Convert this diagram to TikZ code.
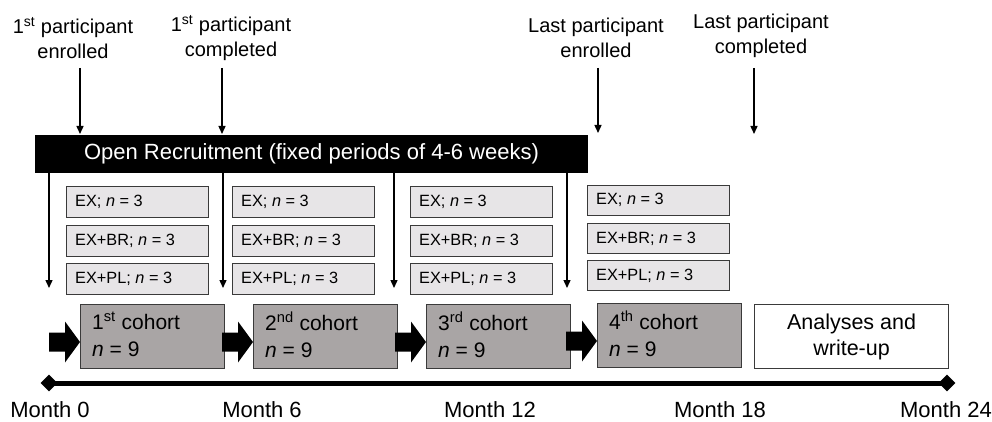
\documentclass[tikz,border=0pt]{standalone}
\usepackage{fontspec}
\setmainfont{Liberation Sans}
\usetikzlibrary{arrows.meta,shapes.geometric}
\definecolor{smallfill}{HTML}{E7E5E7}
\definecolor{cohortfill}{HTML}{A9A5A5}
\definecolor{edgegray}{HTML}{3A3A3A}
\tikzset{
  toplabel/.style={align=center,inner sep=0pt,font=\fontsize{20}{25}\selectfont},
  thinarrow/.style={line width=1.4pt,-{Triangle[width=7pt,length=8pt]}},
  smallbox/.style={draw=edgegray,line width=1.1pt,fill=smallfill,minimum width=142pt,minimum height=31pt,inner sep=0pt},
  smalltext/.style={anchor=west,inner sep=0pt,font=\fontsize{16.3}{19}\selectfont},
  cohortbox/.style={draw=edgegray,line width=1.1pt,fill=cohortfill,minimum width=144pt,minimum height=64pt,inner sep=0pt},
  cohorttext/.style={anchor=north west,align=left,inner sep=0pt,font=\fontsize{21}{27}\selectfont},
  monthlabel/.style={inner sep=0pt,font=\fontsize{22}{26}\selectfont},
  tick/.style={diamond,fill=black,inner sep=0pt,minimum size=17pt}
}
\newcommand{\blockarrow}[1]{%
  \fill[black] ([xshift=-31pt,yshift=-9.5pt]#1) -- ([xshift=-15pt,yshift=-9.5pt]#1) -- ([xshift=-15pt,yshift=-20.5pt]#1) -- (#1) -- ([xshift=-15pt,yshift=20.5pt]#1) -- ([xshift=-15pt,yshift=9.5pt]#1) -- ([xshift=-31pt,yshift=9.5pt]#1) -- cycle;}
\begin{document}
\begin{tikzpicture}[x=1pt,y=-1pt]
\useasboundingbox (0,0) rectangle (992,422);

% top labels
\node[toplabel] (l1) at (73,38) {1\textsuperscript{st} participant\\enrolled};
\node[toplabel] (l2) at (231,38) {1\textsuperscript{st} participant\\completed};
\node[toplabel] (l3) at (596,38) {Last participant\\enrolled};
\node[toplabel] (l4) at (761,36) {Last participant\\completed};

% recruitment bar
\node[fill=black,minimum width=553pt,minimum height=38pt,inner sep=0pt,text=white,font=\fontsize{22}{26}\selectfont] (bar) at (311.5,154) {Open Recruitment (fixed periods of 4-6 weeks)};

% arrows from labels
\coordinate (a1) at (80,68);
\coordinate (a2) at (222,68);
\coordinate (a3) at (598,68);
\coordinate (a4) at (754,68);
\draw[thinarrow] (a1) -- (a1 |- 0,134);
\draw[thinarrow] (a2) -- (a2 |- 0,134);
\draw[thinarrow] (a3) -- (a3 |- 0,133);
\draw[thinarrow] (a4) -- (a4 |- 0,134);

% arrows down from bar
\coordinate (d1) at (49,288);
\coordinate (d2) at (223,288);
\coordinate (d3) at (394,288);
\coordinate (d4) at (567,288);
\draw[thinarrow] (d1 |- bar.south) -- (d1);
\draw[thinarrow] (d2 |- bar.south) -- (d2);
\draw[thinarrow] (d3 |- bar.south) -- (d3);
\draw[thinarrow] (d4 |- bar.south) -- (d4);

% small boxes
\foreach \c/\x in {1/66,2/232,3/410}{
  \node[smallbox,anchor=north west] (ex\c) at (\x,186) {};
  \node[smallbox,anchor=north west] (br\c) at (\x,224.5) {};
  \node[smallbox,anchor=north west] (pl\c) at (\x,262.5) {};
}
\node[smallbox,anchor=north west,minimum height=30pt] (ex4) at (587,184.5) {};
\node[smallbox,anchor=north west,minimum height=30pt] (br4) at (587,223) {};
\node[smallbox,anchor=north west,minimum height=30pt] (pl4) at (587,260) {};
\foreach \c in {1,2,3,4}{
  \node[smalltext] at ([xshift=9pt]ex\c.west) {EX; \textit{n} = 3};
  \node[smalltext] at ([xshift=9pt]br\c.west) {EX+BR; \textit{n} = 3};
  \node[smalltext] at ([xshift=9pt]pl\c.west) {EX+PL; \textit{n} = 3};
}

% cohort boxes
\node[cohortbox,anchor=north west] (c1) at (80,304) {};
\node[cohortbox,anchor=north west] (c2) at (253,304) {};
\node[cohortbox,anchor=north west] (c3) at (426,304) {};
\node[cohortbox,anchor=north west] (c4) at (597,303) {};
\node[cohorttext] (t1) at ([xshift=12pt,yshift=-8pt]c1.north west) {1\textsuperscript{st} cohort\\\textit{n} = 9};
\node[cohorttext] (t2) at ([xshift=12pt,yshift=-8pt]c2.north west) {2\textsuperscript{nd} cohort\\\textit{n} = 9};
\node[cohorttext] (t3) at ([xshift=12pt,yshift=-8pt]c3.north west) {3\textsuperscript{rd} cohort\\\textit{n} = 9};
\node[cohorttext] (t4) at ([xshift=12pt,yshift=-8pt]c4.north west) {4\textsuperscript{th} cohort\\\textit{n} = 9};

% analyses box
\node[draw=edgegray,line width=1.1pt,fill=white,minimum width=194pt,minimum height=64pt,inner sep=0pt,align=center,font=\fontsize{21.5}{26}\selectfont,anchor=north west] (an) at (754,304) {Analyses and\\write-up};

% block arrows
\coordinate (b1) at (c1.west |- 0,342);
\coordinate (b2) at (c2.west |- 0,342);
\coordinate (b3) at (c3.west |- 0,342);
\coordinate (b4) at (c4.west |- 0,341);
\blockarrow{b1}
\blockarrow{b2}
\blockarrow{b3}
\blockarrow{b4}

% timeline
\node[tick] (m0) at (49,383) {};
\node[tick] (m24) at (947,383) {};
\draw[line width=5pt] (m0.center) -- (m24.center);

% month labels
\node[monthlabel] (mo0) at (50,410) {Month 0};
\node[monthlabel] (mo6) at (262,410) {Month 6};
\node[monthlabel] (mo12) at (490,410) {Month 12};
\node[monthlabel] (mo18) at (720,410) {Month 18};
\node[monthlabel] (mo24) at (946,410) {Month 24};
\end{tikzpicture}
\end{document}
